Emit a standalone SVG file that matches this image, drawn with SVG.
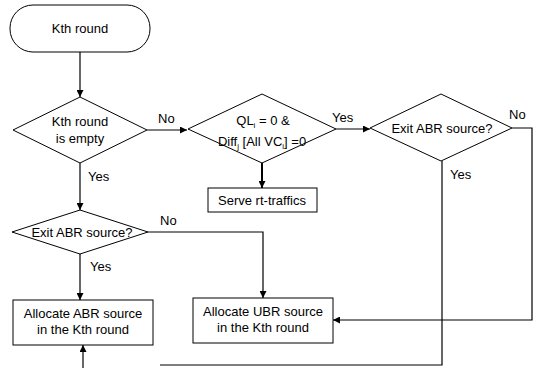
<svg xmlns="http://www.w3.org/2000/svg" width="536" height="368" viewBox="0 0 536 368">
<defs>
<marker id="ah" viewBox="0 0 10 10" refX="10" refY="5" markerWidth="7" markerHeight="7" markerUnits="userSpaceOnUse" orient="auto">
<path d="M0,0 L10,5 L0,10 z" fill="#000"/>
</marker>
</defs>
<style>
.shape{fill:#fff;stroke:#000;stroke-width:1}
.line{fill:none;stroke:#000;stroke-width:1.2}
.thick{fill:none;stroke:#000;stroke-width:2}
text{font-family:"Liberation Sans",Arial,sans-serif;font-size:13px;fill:#000}
.c{text-anchor:middle}
.sub{font-size:8px}
</style>
<rect width="536" height="368" fill="#fff"/>
<g id="connectors">
<path class="line" d="M80,52 V97" marker-end="url(#ah)"/>
<path class="line" d="M147,130 H187" marker-end="url(#ah)"/>
<path class="line" d="M80,163 V210" marker-end="url(#ah)"/>
<path class="thick" d="M262,163 V188" marker-end="url(#ah)"/>
<path class="line" d="M336,129 H370" marker-end="url(#ah)"/>
<path class="line" d="M148,232 H263 V298" marker-end="url(#ah)"/>
<path class="line" d="M80,254 V300" marker-end="url(#ah)"/>
<path class="line" d="M512,128 H532 V320 H333" marker-end="url(#ah)"/>
<path class="line" d="M442,161 V365 H160"/>
<path class="line" d="M83,368 V345" marker-end="url(#ah)"/>
</g>
<g id="start">
<rect class="shape" x="10" y="5" width="140" height="47" rx="23" ry="23"/>
<text class="c" x="80" y="33">Kth round</text>
</g>
<g id="d-empty">
<polygon class="shape" points="80,97 147,130 80,163 13,130"/>
<text class="c" x="80" y="126">Kth round</text>
<text class="c" x="80" y="143">is empty</text>
</g>
<g id="d-ql">
<polygon class="shape" points="262,94 336,129 262,163 188,129"/>
<text class="c" x="263" y="125">QL<tspan class="sub" dy="3">i</tspan><tspan dy="-3"> = 0 &amp;</tspan></text>
<text class="c" x="262" y="146">Diff<tspan class="sub" dy="3">j</tspan><tspan dy="-3"> [All VC</tspan><tspan class="sub" dy="3">i</tspan><tspan dy="-3">] =0</tspan></text>
</g>
<g id="serve">
<rect class="shape" x="208" y="188" width="109" height="24"/>
<text class="c" x="262" y="205">Serve rt-traffics</text>
</g>
<g id="d-exit-right">
<polygon class="shape" points="441,94 512,128 441,161 370,128"/>
<text class="c" x="442" y="133">Exit ABR source?</text>
</g>
<g id="d-exit-left">
<polygon class="shape" points="80,210 148,232 80,254 12,232"/>
<text class="c" x="82" y="237">Exit ABR source?</text>
</g>
<g id="abr">
<rect class="shape" x="13" y="300" width="140" height="45"/>
<text class="c" x="83" y="318">Allocate ABR source</text>
<text class="c" x="83" y="334">in the Kth round</text>
</g>
<g id="ubr">
<rect class="shape" x="193" y="298" width="140" height="45"/>
<text class="c" x="263" y="316">Allocate UBR source</text>
<text class="c" x="263" y="332">in the Kth round</text>
</g>
<g id="labels">
<text x="158" y="123">No</text>
<text x="88" y="181">Yes</text>
<text x="332" y="122">Yes</text>
<text x="509" y="119">No</text>
<text x="450" y="179">Yes</text>
<text x="160" y="225">No</text>
<text x="90" y="271">Yes</text>
</g>
</svg>
